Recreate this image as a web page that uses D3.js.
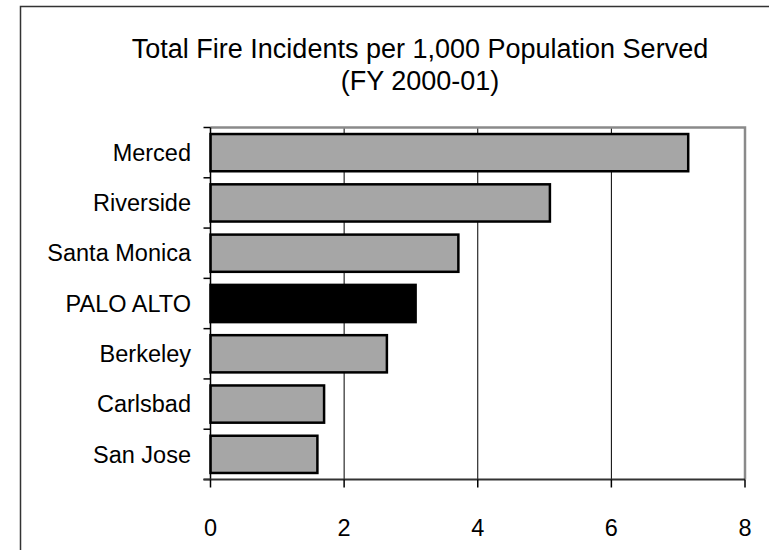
<!DOCTYPE html>
<html>
<head>
<meta charset="utf-8">
<script src="https://cdn.jsdelivr.net/npm/d3@7"></script>
<style>
  html, body { margin: 0; padding: 0; background: #fff; }
  svg { display: block; font-family: "Liberation Sans", Arial, sans-serif; }
</style>
</head>
<body>
<svg id="chart" width="769" height="550"></svg>
<script>
const titleLines = ["Total Fire Incidents per 1,000 Population Served", "(FY 2000-01)"];
const categories = ["Merced", "Riverside", "Santa Monica", "PALO ALTO", "Berkeley", "Carlsbad", "San Jose"];
const values = [7.15, 5.08, 3.71, 3.07, 2.64, 1.70, 1.60];
const xTicks = [0, 2, 4, 6, 8];
const highlight = "PALO ALTO";

(function () {
const svg = d3.select("#chart");
const pLeft = 210.5, pRight = 745, pTop = 127.5, pBottom = 479.5;

const x = d3.scaleLinear().domain([0, 8]).range([pLeft, pRight]);
const y = d3.scaleBand().domain(categories).range([pTop, pBottom]).paddingInner(0.26).paddingOuter(0.13);

// outer frame
svg.append("path")
  .attr("d", `M20.5,550 L20.5,6.5 L769,6.5`)
  .attr("fill", "none").attr("stroke", "#333").attr("stroke-width", 1.5);

// title
svg.append("g").selectAll("text").data(titleLines).join("text")
  .attr("x", 420).attr("y", (d, i) => 58 + i * 32)
  .attr("text-anchor", "middle").attr("font-size", 27).attr("fill", "#000")
  .text(d => d);

// gridlines
svg.append("g").selectAll("line").data(xTicks.filter(t => t > 0 && t < 8)).join("line")
  .attr("x1", d => x(d)).attr("x2", d => x(d)).attr("y1", pTop).attr("y2", pBottom)
  .attr("stroke", "#000").attr("stroke-width", 1);

// plot border (top, right)
svg.append("path")
  .attr("d", `M${pLeft},${pTop} L${pRight},${pTop} L${pRight},${pBottom}`)
  .attr("fill", "none").attr("stroke", "#8a8a8a").attr("stroke-width", 2.5);

// bars
svg.append("g").selectAll("rect").data(categories).join("rect")
  .attr("x", x(0))
  .attr("y", d => y(d))
  .attr("width", (d, i) => x(values[i]) - x(0))
  .attr("height", y.bandwidth())
  .attr("fill", d => d === highlight ? "#000" : "#a6a6a6")
  .attr("stroke", "#000").attr("stroke-width", 2.5);

// y axis
const step = y.step();
const yBounds = d3.range(categories.length + 1).map(i => pTop + i * step);
svg.append("line").attr("x1", pLeft).attr("x2", pLeft).attr("y1", pTop).attr("y2", pBottom)
  .attr("stroke", "#000").attr("stroke-width", 1.5);
svg.append("g").selectAll("line").data(yBounds).join("line")
  .attr("x1", pLeft - 7).attr("x2", pLeft).attr("y1", d => d).attr("y2", d => d)
  .attr("stroke", "#000").attr("stroke-width", 1.5);
svg.append("g").selectAll("text").data(categories).join("text")
  .attr("x", 191).attr("y", d => y(d) + y.bandwidth() / 2)
  .attr("dy", "0.35em").attr("text-anchor", "end").attr("font-size", 23.5).attr("fill", "#000")
  .text(d => d);

// x axis
svg.append("line").attr("x1", pLeft - 7).attr("x2", pRight).attr("y1", pBottom).attr("y2", pBottom)
  .attr("stroke", "#333").attr("stroke-width", 2);
svg.append("g").selectAll("line").data(xTicks).join("line")
  .attr("x1", d => x(d)).attr("x2", d => x(d)).attr("y1", pBottom).attr("y2", pBottom + 8)
  .attr("stroke", "#000").attr("stroke-width", 1.5);
svg.append("g").selectAll("text").data(xTicks).join("text")
  .attr("x", d => x(d)).attr("y", 536)
  .attr("text-anchor", "middle").attr("font-size", 23.5).attr("fill", "#000")
  .text(d => d);
})();
</script>
</body>
</html>
